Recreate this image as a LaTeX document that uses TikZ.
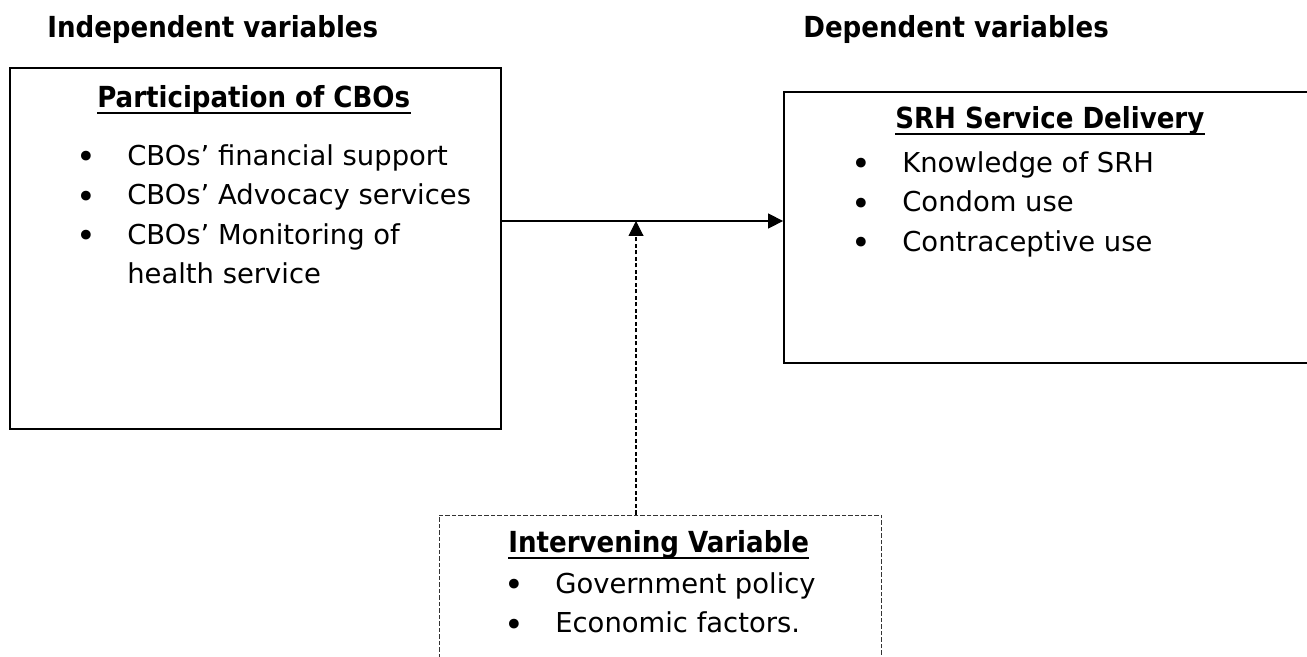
\documentclass[tikz,border=0pt]{standalone}
\usepackage{fontspec}
\setmainfont{DejaVu Sans}
\newfontfamily\headfont{DejaVu Sans Condensed}
\usetikzlibrary{arrows.meta,positioning}
\tikzset{
    varbox/.style    = {rectangle, draw=black, line width=1.1pt, inner sep=0pt},
    ivbox/.style     = {rectangle, draw=black!80, line width=0.6pt,
                        dash pattern=on 2.5pt off 1.2pt, inner sep=0pt},
    headtext/.style  = {font={\headfont\bfseries\fontsize{16.5}{22.5}\selectfont},
                        anchor=base west, inner sep=0pt},
    boxtitle/.style  = {font={\headfont\bfseries\fontsize{16.5}{22.5}\selectfont},
                        anchor=base west, inner sep=0pt},
    itemlist/.style  = {font={\fontsize{15.6}{22.5}\selectfont},
                        anchor=base west, inner sep=0pt},
    titlebar/.style  = {line width=1.4pt},
    linkArr/.style   = {-{Triangle[length=8.5pt,width=8.5pt]}, line width=0.8pt},
    dashArr/.style   = {-{Triangle[length=8.5pt,width=8.5pt]}, line width=0.6pt,
                        dash pattern=on 2.5pt off 1.2pt}
}
\newcommand{\bulletcol}{p{1.02cm}@{}l@{}}
\newcommand{\dotmark}{\raisebox{-2pt}{\fontsize{19}{19}\selectfont •}}

\begin{document}
\begin{tikzpicture}[x=0.02cm, y=-0.02cm]
\useasboundingbox (0,0) rectangle (1307,656);

% ===== column headings =====
\node[headtext] (indhead) at (47,37) {Independent variables};
\node[headtext] (dephead) at (803,37) {Dependent variables};

% ===== boxes =====
\node[varbox, minimum width=9.82cm, minimum height=7.22cm] (indep) at (255.5,248.5) {};
\node[varbox, minimum width=10.92cm, minimum height=5.42cm] (dep) at (1057,227.5) {};
\node[ivbox, minimum width=8.86cm, minimum height=3.3cm] (interv) at (660.5,597.5) {};

% ===== left box contents =====
\node[boxtitle] (cbotitle) at (97,107) {Participation of CBOs};
\draw[titlebar] ([yshift=-3.4pt]cbotitle.base west) -- ([yshift=-3.4pt]cbotitle.base east);
\node[itemlist] (cbolist) at (76,165) {%
  \begin{tabular}[t]{@{}\bulletcol}
  \dotmark & CBOs’ financial support \\
  \dotmark & CBOs’ Advocacy services \\
  \dotmark & CBOs’ Monitoring of \\
           & health service
  \end{tabular}};

% ===== right box contents =====
\node[boxtitle] (srhtitle) at (895,128) {SRH Service Delivery};
\draw[titlebar] ([yshift=-3.4pt]srhtitle.base west) -- ([yshift=-3.4pt]srhtitle.base east);
\node[itemlist] (srhlist) at (851,172) {%
  \begin{tabular}[t]{@{}\bulletcol}
  \dotmark & Knowledge of SRH \\
  \dotmark & Condom use \\
  \dotmark & Contraceptive use
  \end{tabular}};

% ===== intervening box contents =====
\node[boxtitle] (ivtitle) at (508,552) {Intervening Variable};
\draw[titlebar] ([yshift=-3.4pt]ivtitle.base west) -- ([yshift=-3.4pt]ivtitle.base east);
\node[itemlist] (ivlist) at (504,593) {%
  \begin{tabular}[t]{@{}\bulletcol}
  \dotmark & Government policy \\
  \dotmark & Economic factors.
  \end{tabular}};

% ===== connectors =====
\coordinate (meet) at (636,221);
\draw[linkArr] (indep.east |- meet) -- (dep.west |- meet);
\draw[dashArr] (interv.north -| meet) -- (meet);

\end{tikzpicture}
\end{document}
